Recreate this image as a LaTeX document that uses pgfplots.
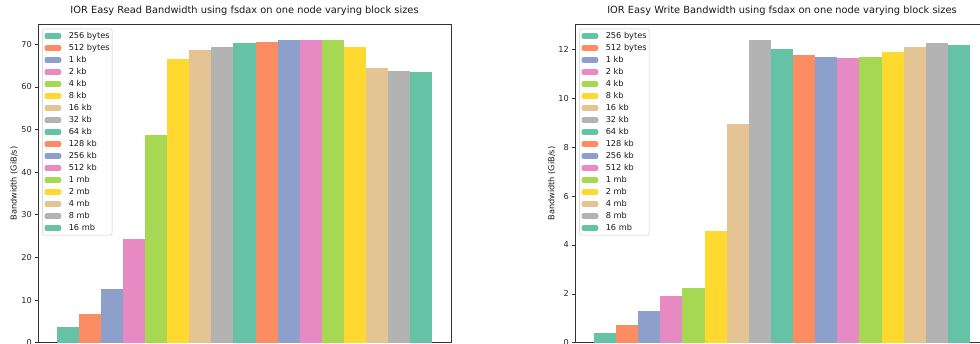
\documentclass[border=0pt]{standalone}
\usepackage{pgfplots}
\pgfplotsset{compat=1.18}
\usepackage{fontspec}
\setmainfont{DejaVu Sans}

% Set2 palette
\definecolor{setA}{HTML}{66C2A5}
\definecolor{setB}{HTML}{FC8D62}
\definecolor{setC}{HTML}{8DA0CB}
\definecolor{setD}{HTML}{E78AC3}
\definecolor{setE}{HTML}{A6D854}
\definecolor{setF}{HTML}{FFD92F}
\definecolor{setG}{HTML}{E5C494}
\definecolor{setH}{HTML}{B3B3B3}

\pgfplotsset{
  bw/.style={
    scale only axis,
    anchor=south west,
    xmin=-1.35, xmax=17.35, ymin=0,
    xtick=\empty,
    tick align=outside,
    tick pos=left,
    major tick length=2.7pt,
    axis line style={line width=0.6pt, black!80},
    every tick/.style={line width=0.6pt, black!80},
    tick label style={font=\fontsize{8.2}{9.5}\selectfont, text=black!85},
    /pgf/number format/assume math mode=true,
    title style={font=\fontsize{9.85}{11.5}\selectfont, text=black!90,
      at={(axis description cs:0.5,1)}, anchor=base, yshift=4.5pt},
    ylabel={Bandwidth (GiB/s)},
    legend cell align=left,
    legend style={
      at={(axis description cs:0,1)}, anchor=north west,
      xshift=4.3pt, yshift=-4.2pt,
      draw=black!20, line width=0.5pt, rounded corners=2pt, fill=white,
      font=\fontsize{8.2}{9.5}\selectfont,
      inner xsep=2pt, inner ysep=2.8pt,
      row sep=3.4pt, column sep=7pt,
      nodes={inner sep=0.5pt, text height=6pt, text depth=1.6pt, text=black!90},
    },
  },
  blk/.style={ybar, bar width=1, bar shift=0pt, draw=none, fill=#1,
    legend image code/.code={\fill[fill=#1] (0pt,-2.9pt) rectangle (16.7pt,2.9pt);}},
}

\begin{document}
\begin{tikzpicture}[x=1pt,y=1pt]
\useasboundingbox (0,0) rectangle (980,344);

% Read bandwidth
\begin{axis}[bw, at={(38pt,1.3pt)}, width=413pt, height=318.2pt,
  ymax=74.62, ytick={0,10,...,70},
  title={IOR Easy Read Bandwidth using fsdax on one node varying block sizes},
  ylabel style={at={(axis description cs:-0.0581,0.5)}, anchor=center, rotate=0,
    font=\fontsize{8.2}{9.5}\selectfont, text=black!90}]
\addplot[blk=setA] coordinates {(0,3.75)};
\addplot[blk=setB] coordinates {(1,6.73)};
\addplot[blk=setC] coordinates {(2,12.67)};
\addplot[blk=setD] coordinates {(3,24.25)};
\addplot[blk=setE] coordinates {(4,48.65)};
\addplot[blk=setF] coordinates {(5,66.55)};
\addplot[blk=setG] coordinates {(6,68.6)};
\addplot[blk=setH] coordinates {(7,69.36)};
\addplot[blk=setA] coordinates {(8,70.3)};
\addplot[blk=setB] coordinates {(9,70.6)};
\addplot[blk=setC] coordinates {(10,71.0)};
\addplot[blk=setD] coordinates {(11,70.93)};
\addplot[blk=setE] coordinates {(12,71.05)};
\addplot[blk=setF] coordinates {(13,69.3)};
\addplot[blk=setG] coordinates {(14,64.37)};
\addplot[blk=setH] coordinates {(15,63.8)};
\addplot[blk=setA] coordinates {(16,63.4)};
\legend{256 bytes,512 bytes,1 kb,2 kb,4 kb,8 kb,16 kb,32 kb,64 kb,128 kb,256 kb,512 kb,1 mb,2 mb,4 mb,8 mb,16 mb}
\end{axis}

% Write bandwidth
\begin{axis}[bw, at={(575pt,1.3pt)}, width=414pt, height=318.2pt,
  ymax=13.02, ytick={0,2,...,12},
  title={IOR Easy Write Bandwidth using fsdax on one node varying block sizes},
  ylabel style={at={(axis description cs:-0.0563,0.5)}, anchor=center, rotate=0,
    font=\fontsize{8.2}{9.5}\selectfont, text=black!90}]
\addplot[blk=setA] coordinates {(0,0.38)};
\addplot[blk=setB] coordinates {(1,0.71)};
\addplot[blk=setC] coordinates {(2,1.30)};
\addplot[blk=setD] coordinates {(3,1.92)};
\addplot[blk=setE] coordinates {(4,2.25)};
\addplot[blk=setF] coordinates {(5,4.57)};
\addplot[blk=setG] coordinates {(6,8.94)};
\addplot[blk=setH] coordinates {(7,12.38)};
\addplot[blk=setA] coordinates {(8,12.03)};
\addplot[blk=setB] coordinates {(9,11.77)};
\addplot[blk=setC] coordinates {(10,11.70)};
\addplot[blk=setD] coordinates {(11,11.64)};
\addplot[blk=setE] coordinates {(12,11.67)};
\addplot[blk=setF] coordinates {(13,11.89)};
\addplot[blk=setG] coordinates {(14,12.08)};
\addplot[blk=setH] coordinates {(15,12.26)};
\addplot[blk=setA] coordinates {(16,12.20)};
\legend{256 bytes,512 bytes,1 kb,2 kb,4 kb,8 kb,16 kb,32 kb,64 kb,128 kb,256 kb,512 kb,1 mb,2 mb,4 mb,8 mb,16 mb}
\end{axis}
\end{tikzpicture}
\end{document}
